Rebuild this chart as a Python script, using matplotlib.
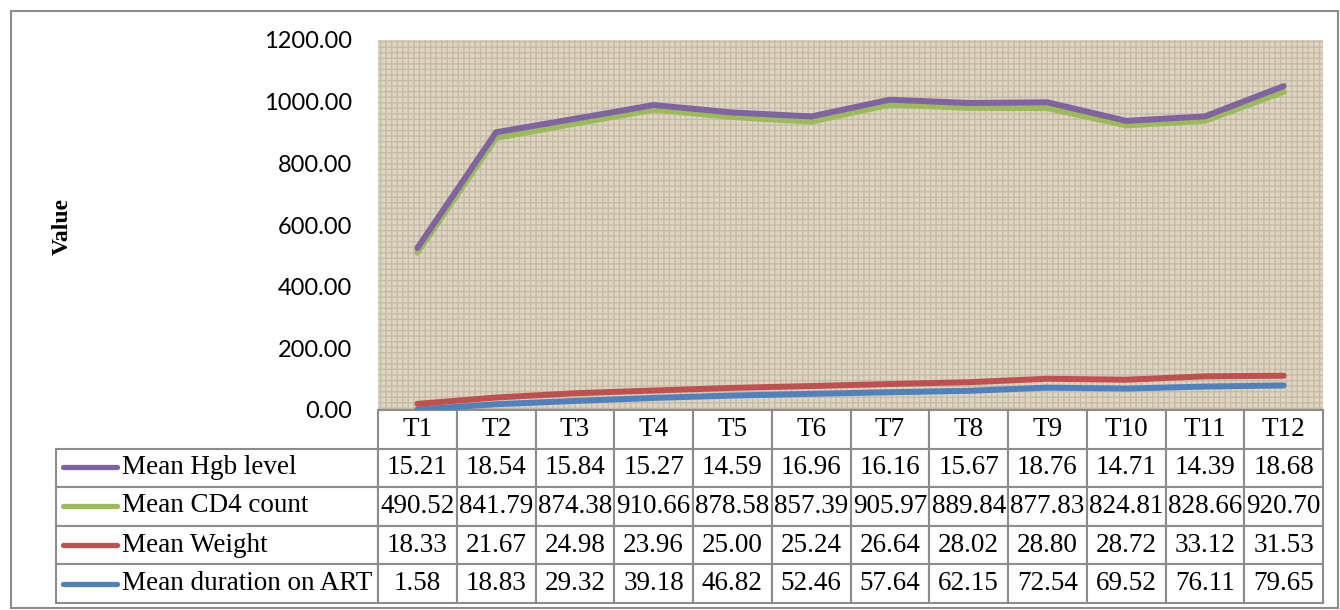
import matplotlib.pyplot as plt
from matplotlib.lines import Line2D
from matplotlib.patches import Rectangle
import numpy as np

periods = ["T1", "T2", "T3", "T4", "T5", "T6", "T7", "T8", "T9", "T10", "T11", "T12"]
hgb = [15.21, 18.54, 15.84, 15.27, 14.59, 16.96, 16.16, 15.67, 18.76, 14.71, 14.39, 18.68]
cd4 = [490.52, 841.79, 874.38, 910.66, 878.58, 857.39, 905.97, 889.84, 877.83, 824.81, 828.66, 920.70]
weight = [18.33, 21.67, 24.98, 23.96, 25.00, 25.24, 26.64, 28.02, 28.80, 28.72, 33.12, 31.53]
duration = [1.58, 18.83, 29.32, 39.18, 46.82, 52.46, 57.64, 62.15, 72.54, 69.52, 76.11, 79.65]

# table order (top to bottom) and colours
names = ["Mean Hgb level", "Mean CD4 count", "Mean Weight", "Mean duration on ART"]
series = [hgb, cd4, weight, duration]
colors = ["#8064A2", "#9BBB59", "#C0504D", "#4F81BD"]

W, H = 1340, 610
fig = plt.figure(figsize=(W / 100, H / 100), dpi=100)

# outer chart border
fig.add_artist(Rectangle((11 / W, 1 - 608 / H), (1338 - 11) / W, (608 - 11) / H,
                         transform=fig.transFigure, fill=False, edgecolor="#8c8c8c", lw=1.5))

x0, x1, y0, y1 = 378, 1323, 40, 410
ax = fig.add_axes([x0 / W, 1 - y1 / H, (x1 - x0) / W, (y1 - y0) / H])
ax.set_facecolor("#ded5c2")
ax.add_patch(Rectangle((0, 0), 1, 1, transform=ax.transAxes, facecolor="none",
                       edgecolor="#c6bba6", hatch="+++", lw=0, zorder=0))
for s in ax.spines.values():
    s.set_visible(False)

# stacked lines (Excel stacked line chart): bottom series drawn first
x = np.arange(len(periods))
stack = np.zeros(len(periods))
stacked = {}
for name, vals in zip(names[::-1], series[::-1]):
    stack = stack + np.array(vals)
    stacked[name] = stack.copy()
for name, col in zip(names[::-1], colors[::-1]):
    ax.plot(x, stacked[name], color=col, lw=4.3, solid_capstyle="round", zorder=3)

ax.set_xlim(-0.5, len(periods) - 0.5)
ax.set_ylim(0, 1200)
ax.set_yticks(np.arange(0, 1201, 200))
ax.set_yticklabels([f"{v:.2f}" for v in np.arange(0, 1201, 200)], fontfamily="Lato", fontsize=17)
ax.tick_params(axis="y", length=0, pad=18.5)
ax.set_xticks([])

fig.text(62 / W, 1 - 226 / H, "Value", rotation=90, ha="center", va="center",
         fontfamily="Liberation Serif", fontweight="bold", fontsize=17)

# data table below the plot
lab_w = 322
col_w = (x1 - x0) / len(periods)
tot_w = lab_w + col_w * len(periods)
cell_text = [[""] + [f"{v:.2f}" for v in vals] for vals in series]
tb_bottom = 603
bbox_x = (56 - x0) / (x1 - x0)
bbox_y = (y1 - tb_bottom) / (y1 - y0)
table = ax.table(cellText=cell_text, colLabels=[""] + periods,
                 colWidths=[lab_w / tot_w] + [col_w / tot_w] * len(periods),
                 cellLoc="center", bbox=[bbox_x, bbox_y, -bbox_x + 1, -bbox_y])
table.auto_set_font_size(False)
for (r, c), cell in table.get_celld().items():
    cell.set_edgecolor("#8c8c8c")
    cell.set_linewidth(1.5)
    cell.get_text().set_fontfamily("Liberation Serif")
    cell.get_text().set_fontsize(19.5)
    if r == 0 and c == 0:
        cell.visible_edges = ""

# legend keys + names in first column
for i, (name, col) in enumerate(zip(names, colors)):
    yc = 1 - (467 + i * 39) / H
    fig.add_artist(Line2D([63 / W, 117 / W], [yc, yc], transform=fig.transFigure,
                          color=col, lw=3.8, solid_capstyle="round"))
    fig.text(122 / W, yc, name, ha="left", va="center",
             fontfamily="Liberation Serif", fontsize=19.5)

fig.savefig("out.png", dpi=100)
